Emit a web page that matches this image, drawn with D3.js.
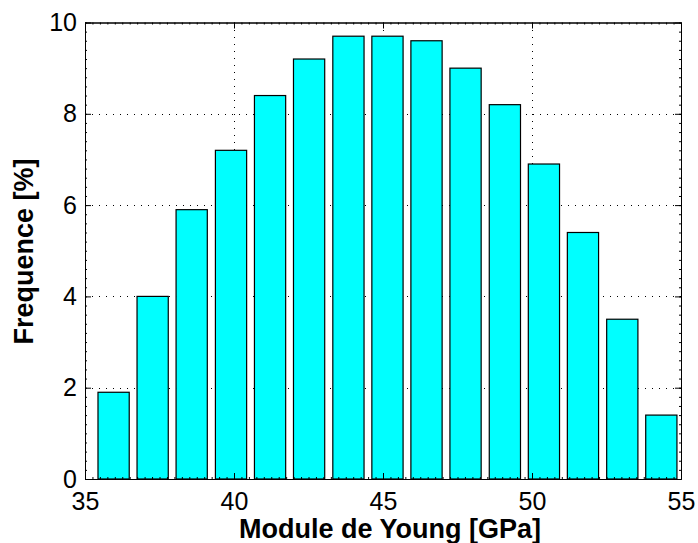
<!DOCTYPE html>
<html>
<head>
<meta charset="utf-8">
<script src="https://cdn.jsdelivr.net/npm/d3@7"></script>
<style>
  html, body { margin: 0; padding: 0; background: #fff; }
  svg { display: block; font-family: "Liberation Sans", Arial, Helvetica, sans-serif; }
</style>
</head>
<body>
<div id="chart"></div>
<script>
// histogram bin centres (GPa) and frequencies (%)
const binCenters = [35.96, 37.27, 38.58, 39.90, 41.21, 42.52, 43.84, 45.15, 46.46, 47.77, 49.09, 50.40, 51.71, 53.03, 54.34];
const frequencies = [1.9, 4.0, 5.9, 7.2, 8.4, 9.2, 9.7, 9.7, 9.6, 9.0, 8.2, 6.9, 5.4, 3.5, 1.4];
const xTicks = [35, 40, 45, 50, 55];
const yTicks = [0, 2, 4, 6, 8, 10];
const xLabel = "Module de Young [GPa]";
const yLabel = "Frequence [%]";

const width = 698, height = 543;
const margin = { top: 22.5, right: 17, bottom: 64, left: 85 };
const barFraction = 0.8;

const svg = d3.select("#chart").append("svg")
  .attr("width", width).attr("height", height);

const x = d3.scaleLinear().domain([35, 55]).range([margin.left, width - margin.right]);
const y = d3.scaleLinear().domain([0, 10]).range([height - margin.bottom, margin.top]);

const [x0, x1] = x.range();
const [y0, y1] = y.range();

// dotted grid
const grid = svg.append("g").attr("stroke", "#000").attr("stroke-width", 1)
  .attr("stroke-dasharray", "1,6").attr("shape-rendering", "crispEdges");
grid.selectAll("line.gx").data(xTicks.slice(1, -1)).join("line")
  .attr("class", "gx")
  .attr("x1", (d) => Math.round(x(d)) + 0.5).attr("x2", (d) => Math.round(x(d)) + 0.5)
  .attr("y1", y1).attr("y2", y0);
grid.selectAll("line.gy").data(yTicks.slice(1, -1)).join("line")
  .attr("class", "gy")
  .attr("x1", x0).attr("x2", x1)
  .attr("y1", (d) => Math.round(y(d)) + 0.5).attr("y2", (d) => Math.round(y(d)) + 0.5);

// bars
const step = binCenters[1] - binCenters[0];
const barW = x(35 + step * barFraction) - x(35);
svg.append("g").selectAll("rect").data(frequencies).join("rect")
  .attr("x", (d, i) => x(binCenters[i]) - barW / 2)
  .attr("y", (d) => y(d))
  .attr("width", barW)
  .attr("height", (d) => y(0) - y(d))
  .attr("fill", "#00ffff")
  .attr("stroke", "#000")
  .attr("stroke-width", 1.2);

// axes: box with inward ticks on all four sides
const tickLen = 6;
const axisBottom = d3.axisBottom(x).tickValues(xTicks).tickSizeInner(-tickLen).tickSizeOuter(0).tickPadding(13);
const axisLeft = d3.axisLeft(y).tickValues(yTicks).tickSizeInner(-tickLen).tickSizeOuter(0).tickPadding(8);
const axisTop = d3.axisTop(x).tickValues(xTicks).tickSizeInner(-tickLen).tickSizeOuter(0).tickFormat("");
const axisRight = d3.axisRight(y).tickValues(yTicks).tickSizeInner(-tickLen).tickSizeOuter(0).tickFormat("");

const minorX = d3.range(35, 55.001, 0.25);
const minorY = d3.range(0, 10.001, 0.2);
const minorBottom = d3.axisBottom(x).tickValues(minorX).tickSizeInner(-2).tickSizeOuter(0).tickFormat("");
const minorTop = d3.axisTop(x).tickValues(minorX).tickSizeInner(-2).tickSizeOuter(0).tickFormat("");
const minorLeft = d3.axisLeft(y).tickValues(minorY).tickSizeInner(-2).tickSizeOuter(0).tickFormat("");
const minorRight = d3.axisRight(y).tickValues(minorY).tickSizeInner(-2).tickSizeOuter(0).tickFormat("");

function place(gen, tx, ty) {
  const g = svg.append("g").attr("transform", `translate(${tx},${ty})`).call(gen);
  g.selectAll("line, path").attr("stroke", "#000").attr("stroke-width", 1);
  g.selectAll("text").attr("font-size", 25).attr("fill", "#000")
    .attr("font-family", "'Liberation Sans', Arial, sans-serif");
  return g;
}
place(minorBottom, 0, y0);
place(minorTop, 0, y1);
place(minorLeft, x0, 0);
place(minorRight, x1, 0);
place(axisBottom, 0, y0);
place(axisLeft, x0, 0);
place(axisTop, 0, y1);
place(axisRight, x1, 0);

// axis titles
svg.append("text")
  .attr("x", 390)
  .attr("y", 538)
  .attr("text-anchor", "middle")
  .attr("font-size", 27)
  .attr("font-weight", "bold")
  .text(xLabel);

svg.append("text")
  .attr("transform", `translate(33,251.5) rotate(-90)`)
  .attr("text-anchor", "middle")
  .attr("font-size", 27)
  .attr("font-weight", "bold")
  .text(yLabel);
</script>
</body>
</html>
